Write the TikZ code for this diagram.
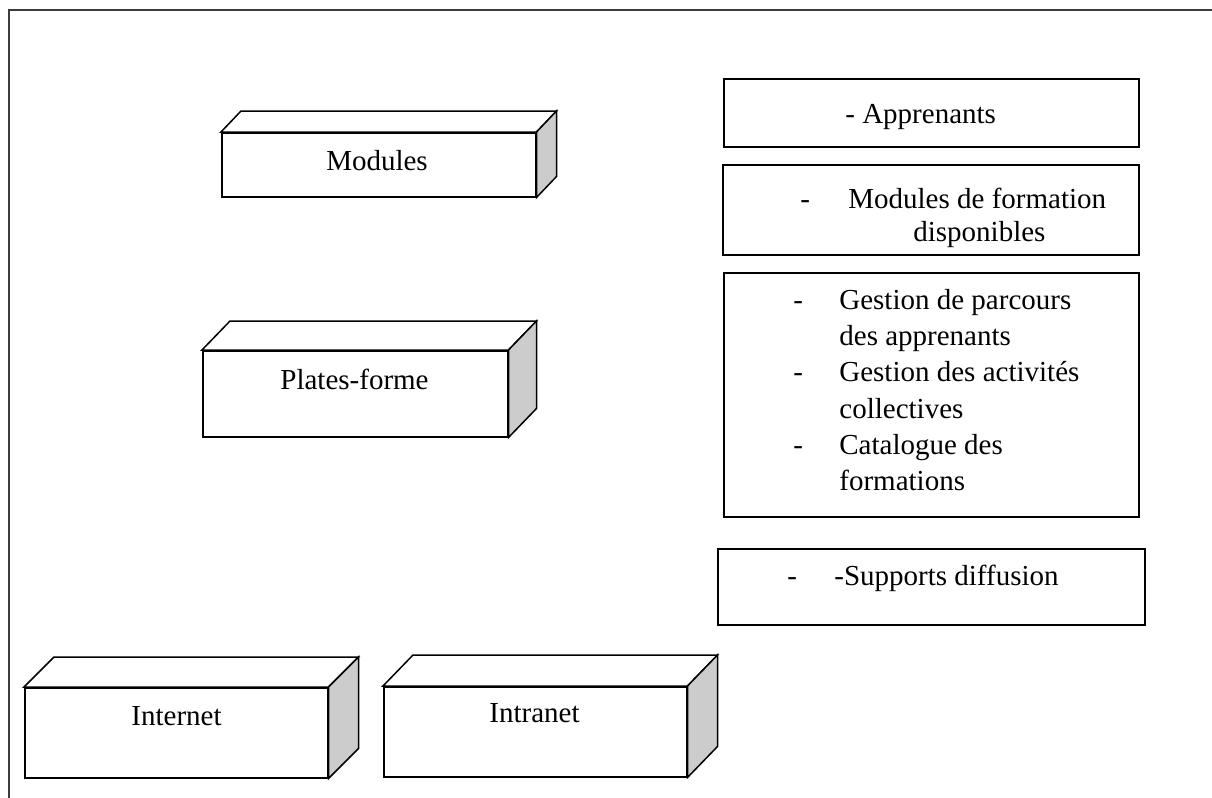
\documentclass[tikz,border=0pt]{standalone}
\usepackage{fontspec}
\setmainfont{Liberation Serif}
\definecolor{framegray}{RGB}{60,60,60}
\definecolor{sidegray}{RGB}{204,204,204}
\tikzset{
  frontface/.style={draw=black, line width=0.75pt, fill=white, inner sep=0pt, anchor=north west},
  face/.style={draw=black, line width=0.75pt, fill=white, line join=miter},
  sideface/.style={face, fill=sidegray},
  listbox/.style={draw=black, line width=0.75pt, fill=white, inner sep=0pt, anchor=north west},
  txt/.style={inner sep=0pt, anchor=base west, font=\fontsize{14.5pt}{18pt}\selectfont},
  ctxt/.style={inner sep=0pt, anchor=base, font=\fontsize{14.5pt}{18pt}\selectfont},
  frameline/.style={draw=framegray, line width=1pt}
}
\newcommand\mycube[7]{%
  \node[frontface, minimum width=#4, minimum height=#5] (#1) at (#2,#3) {};
  \draw[face] (#1.north west) -- ++(#6,#7) -- ([shift={(#6,#7)}]#1.north east) -- (#1.north east) -- cycle;
  \draw[sideface] (#1.north east) -- ++(#6,#7) -- ([shift={(#6,#7)}]#1.south east) -- (#1.south east) -- cycle;
}
\begin{document}
\begin{tikzpicture}[x=0.5pt,y=-0.5pt]
\useasboundingbox (0,0) rectangle (1212,798);
\fill[white] (0,0) rectangle (1212,798);
% outer frame (top and left only)
\coordinate (fbl) at (9,798);
\coordinate (ftl) at (9,10);
\coordinate (ftr) at (1212,10);
\draw[frameline] (fbl) -- (ftl) -- (ftr);

% cubes
\mycube{modules}{221}{132}{157pt}{32pt}{20}{-21}
\node[ctxt] (modulesL) at (377,170) {Modules};

\mycube{plates}{202}{350}{152.5pt}{43pt}{28}{-29}
\node[ctxt] (platesL) at (354.5,389) {Plates-forme};

\mycube{internet}{24}{687}{151.5pt}{45pt}{30}{-30}
\node[ctxt] (internetL) at (176.5,725) {Internet};

\mycube{intranet}{383}{686}{151.5pt}{45pt}{30}{-31}
\node[ctxt] (intranetL) at (534.5,722.5) {Intranet};

% right-hand boxes
\node[listbox, minimum width=207.5pt, minimum height=34pt] (appr) at (723,78) {};
\node[txt] (apprT) at (845,123) {- Apprenants};

\node[listbox, minimum width=208pt, minimum height=45pt] (modf) at (722,164) {};
\node[txt] (modfD) at (800,208) {-};
\node[txt] (modfT1) at (848,208) {Modules de formation};
\node[txt] (modfT2) at (913,241.7) {disponibles};

\node[listbox, minimum width=207.5pt, minimum height=122pt] (gest) at (723,272) {};
\node[txt] (gestD1) at (793,309.3) {-};
\node[txt] (gestT1) at (839,309.3) {Gestion de parcours};
\node[txt] (gestT2) at (839,345.5) {des apprenants};
\node[txt] (gestD2) at (793,381.7) {-};
\node[txt] (gestT3) at (839,381.7) {Gestion des activités};
\node[txt] (gestT4) at (839,418) {collectives};
\node[txt] (gestD3) at (793,454.3) {-};
\node[txt] (gestT5) at (839,454.3) {Catalogue des};
\node[txt] (gestT6) at (839,490.6) {formations};

\node[listbox, minimum width=213.5pt, minimum height=38pt] (supp) at (717,548) {};
\node[txt] (suppD) at (787,585) {-};
\node[txt] (suppT) at (834,585) {-Supports diffusion};
\end{tikzpicture}
\end{document}
